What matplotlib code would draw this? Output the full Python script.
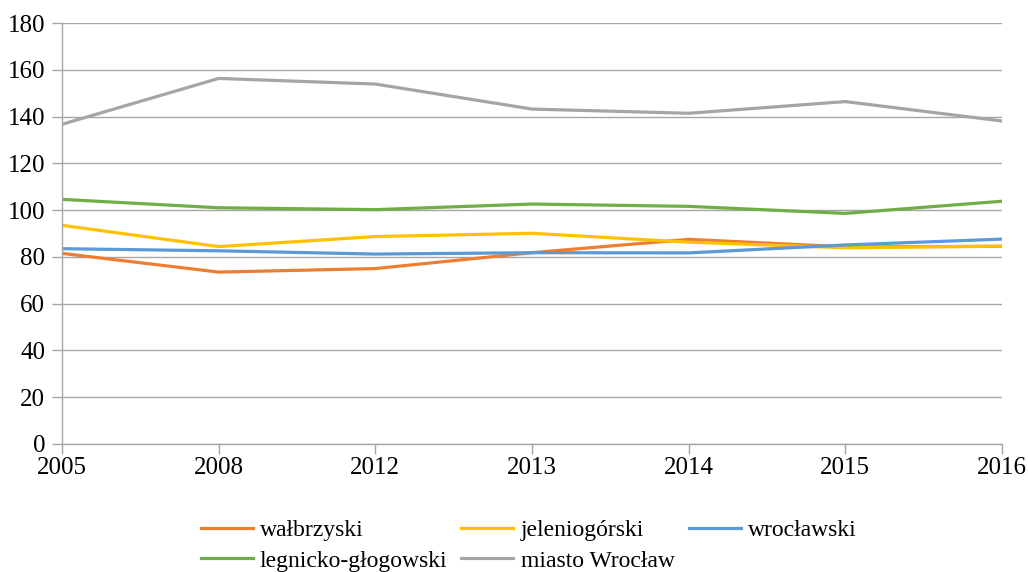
import numpy as np
import matplotlib
matplotlib.use('Agg')
import matplotlib.pyplot as plt

plt.rcParams['font.family'] = ['Liberation Serif', 'DejaVu Serif']

# data
years = ['2005', '2008', '2012', '2013', '2014', '2015', '2016']
walbrzyski = [81.5, 73.5, 75.0, 81.8, 87.5, 84.3, 84.5]
jeleniogorski = [93.5, 84.4, 88.7, 90.1, 86.3, 83.9, 84.6]
wroclawski = [83.5, 82.6, 81.2, 81.8, 81.7, 85.1, 87.6]
legnicko = [104.6, 101.0, 100.2, 102.6, 101.6, 98.6, 103.8]
miasto = [136.7, 156.3, 153.9, 143.2, 141.4, 146.4, 138.1]

names = ['wałbrzyski', 'jeleniogórski', 'wrocławski', 'legnicko-głogowski', 'miasto Wrocław']
colors = ['#ED7D31', '#FFC000', '#5B9BD5', '#70AD47', '#A5A5A5']
series = [walbrzyski, jeleniogorski, wroclawski, legnicko, miasto]

fig = plt.figure(figsize=(10.28, 5.72), dpi=100)
ax = fig.add_axes([62/1028, 1 - 444/572, 940/1028, 421/572])

x = np.arange(len(years))
lines = []
for vals, name, c in zip(series, names, colors):
    l, = ax.plot(x, vals, color=c, lw=2.3, label=name, solid_joinstyle='round')
    lines.append(l)

ax.set_xlim(0, len(years) - 1)
ax.set_ylim(0, 180)
ax.set_yticks(np.arange(0, 181, 20))
ax.set_xticks(x)
ax.set_xticklabels(years)
ax.yaxis.grid(True, color='#A6A6A6', lw=1)
ax.set_axisbelow(True)
for s in ['top', 'right']:
    ax.spines[s].set_visible(False)
for s in ['left', 'bottom']:
    ax.spines[s].set_color('#A6A6A6')
    ax.spines[s].set_linewidth(1)
ax.tick_params(axis='both', colors='#A6A6A6', labelcolor='black', labelsize=18, length=7, width=1)
ax.tick_params(axis='y', pad=5)
ax.tick_params(axis='x', pad=2)

# row-wise order for a 3 column legend
order = [0, 3, 1, 4, 2]
fig.legend([lines[i] for i in order], [names[i] for i in order], ncol=3, loc='center',
           bbox_to_anchor=(528.5/1028, 1 - 545.5/572), frameon=False, fontsize=17,
           handlelength=2.2, handletextpad=0.3, columnspacing=0.6, labelspacing=0.4,
           borderpad=0.0)

fig.savefig('out.png', dpi=100)
